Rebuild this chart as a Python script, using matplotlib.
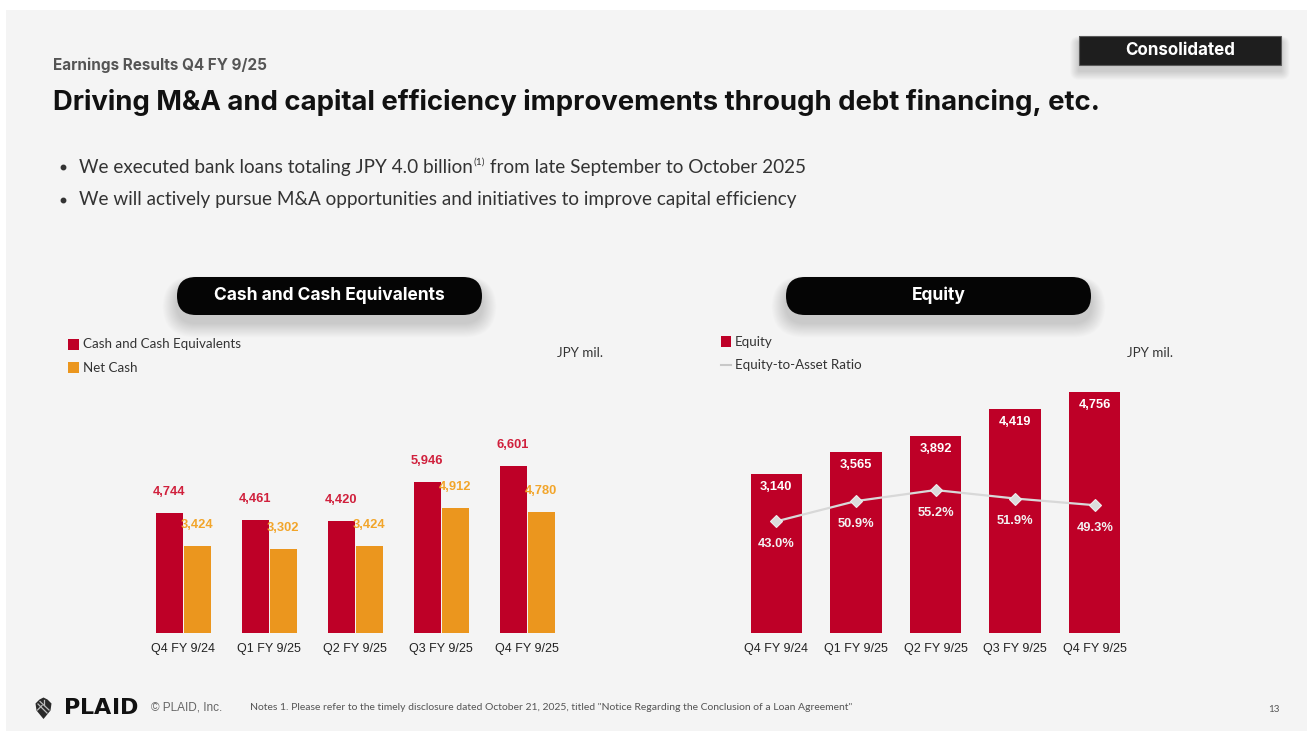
import matplotlib
matplotlib.use("Agg")
import matplotlib.pyplot as plt
from matplotlib.patches import FancyBboxPatch, Rectangle, Polygon
import numpy as np

# ---- data ----
quarters = ["Q4 FY 9/24", "Q1 FY 9/25", "Q2 FY 9/25", "Q3 FY 9/25", "Q4 FY 9/25"]
cash = [4744, 4461, 4420, 5946, 6601]
net_cash = [3424, 3302, 3424, 4912, 4780]
equity = [3140, 3565, 3892, 4419, 4756]
equity_ratio = [43.0, 50.9, 55.2, 51.9, 49.3]

# ---- style ----
W, H = 1307, 731
RED = "#BE0027"
RED_LABEL = "#D0203C"
ORANGE = "#EB961E"
ORANGE_LABEL = "#F2A52A"
BG = "#F4F4F4"
TXT = "#333333"
SANS = ["Lato", "DejaVu Sans"]
HEAD = ["Inter", "DejaVu Sans"]
ARIAL = ["Liberation Sans", "DejaVu Sans"]

fig = plt.figure(figsize=(W / 100, H / 100), dpi=100, facecolor="white")
renderer = fig.canvas.get_renderer()

# full-slide canvas in pixel coordinates (y grows downward)
bg = fig.add_axes([0, 0, 1, 1])
bg.set_xlim(0, W)
bg.set_ylim(H, 0)
bg.axis("off")
bg.add_patch(Rectangle((6, 10), W - 6, H - 10, facecolor=BG, edgecolor="none", zorder=0))


def text_width(t):
    return t.get_window_extent(renderer).width


def fit_text(t, width_px, passes=3):
    """Scale a text's font size so that it spans width_px pixels."""
    for _ in range(passes):
        t.set_fontsize(t.get_fontsize() * width_px / text_width(t))
    return t


def shadowed_box(x, y, w, h, r, color, layers=14, drop=8, spread=26, alpha=0.011):
    for i in range(layers):
        e = spread * (i + 1) / layers
        bg.add_patch(FancyBboxPatch((x - e * 0.55, y + drop - e * 0.35), w + e * 1.1, h + e * 0.9,
                                    boxstyle=f"round,pad=0,rounding_size={r + e * 0.5}",
                                    facecolor="black", edgecolor="none", alpha=alpha, zorder=1))
    bg.add_patch(FancyBboxPatch((x, y), w, h, boxstyle=f"round,pad=0,rounding_size={r}",
                                facecolor=color, edgecolor="none", zorder=2))


# header
fit_text(bg.text(53, 65, "Earnings Results Q4 FY 9/25", family=HEAD, fontsize=10, fontweight="bold",
                 color="#555555", va="center", ha="left"), 214)
fit_text(bg.text(53, 102, "Driving M&A and capital efficiency improvements through debt financing, etc.",
                 family=HEAD, fontsize=18, fontweight="bold", color="#111111", va="center", ha="left"), 1048)

shadowed_box(1079, 36, 202, 29, 0.5, "#1E1E1E", layers=10, drop=6, spread=16, alpha=0.014)
bg.add_patch(Rectangle((1079, 36), 202, 29, facecolor="none", edgecolor="#5A5A5A", lw=0.8, zorder=2.5))
fit_text(bg.text(1180, 50.5, "Consolidated", family=HEAD, fontsize=11, fontweight="bold", color="white",
                 va="center", ha="center", zorder=3), 110)

# bullets (the first carries a small superscript note marker)
y1, y2 = 167, 200
p1 = bg.text(79, y1, "We executed bank loans totaling JPY 4.0 billion", family=SANS, fontsize=13,
             color=TXT, va="center", ha="left")
sup = bg.text(0, y1 - 5, "(1)", family=SANS, fontsize=7, color=TXT, va="center", ha="left")
p3 = bg.text(0, y1, " from late September to October 2025", family=SANS, fontsize=13,
             color=TXT, va="center", ha="left")
for _ in range(3):
    w1 = text_width(p1)
    sup.set_x(79 + w1 + 0.5)
    ws = text_width(sup)
    p3.set_x(79 + w1 + ws + 1)
    total = w1 + ws + 1 + text_width(p3)
    f = p1.get_fontsize() * 727 / total
    p1.set_fontsize(f)
    p3.set_fontsize(f)
    sup.set_fontsize(f * 0.55)
bg.text(79, y2, "We will actively pursue M&A opportunities and initiatives to improve capital efficiency",
        family=SANS, fontsize=p1.get_fontsize(), color=TXT, va="center", ha="left")
for yy in (y1, y2):
    bg.plot([63], [yy], marker="o", markersize=3.2, color=TXT, zorder=3)

# chart section pills
shadowed_box(177, 277, 305, 38, 19, "#050505")
cash_title = fit_text(bg.text(329.5, 295, "Cash and Cash Equivalents", family=HEAD, fontsize=11.5,
                              fontweight="bold", color="white", va="center", ha="center", zorder=3), 231)
shadowed_box(786, 277, 305, 38, 19, "#050505")
bg.text(938.5, 295, "Equity", family=HEAD, fontsize=cash_title.get_fontsize(), fontweight="bold",
        color="white", va="center", ha="center", zorder=3)

# legends
bg.add_patch(Rectangle((68, 339), 10.5, 10.5, facecolor=RED, edgecolor="none", zorder=3))
bg.text(83, 344.5, "Cash and Cash Equivalents", family=SANS, fontsize=9.6, color=TXT, va="center")
bg.add_patch(Rectangle((68, 362), 10.5, 10.5, facecolor=ORANGE, edgecolor="none", zorder=3))
bg.text(83, 367.5, "Net Cash", family=SANS, fontsize=9.6, color=TXT, va="center")
bg.text(557, 353, "JPY mil.", family=SANS, fontsize=9.6, color=TXT, va="center")

bg.add_patch(Rectangle((720.5, 336), 10.5, 10.5, facecolor=RED, edgecolor="none", zorder=3))
bg.text(735, 341.5, "Equity", family=SANS, fontsize=9.6, color=TXT, va="center")
bg.plot([720.5, 731], [365, 365], color="#C8C8C8", lw=1.5, zorder=3)
bg.text(735, 365, "Equity-to-Asset Ratio", family=SANS, fontsize=9.6, color=TXT, va="center")
bg.text(1127, 353, "JPY mil.", family=SANS, fontsize=9.6, color=TXT, va="center")


def chart_axes(left_px, right_px, top_px, bottom_px):
    a = fig.add_axes([left_px / W, (H - bottom_px) / H, (right_px - left_px) / W, (bottom_px - top_px) / H])
    a.patch.set_alpha(0)
    for s in a.spines.values():
        s.set_visible(False)
    a.tick_params(axis="both", length=0)
    a.set_yticks([])
    return a


x = np.arange(len(quarters))

# ---- left chart: cash and net cash ----
step_l = 86.0
ppu_l = 0.02535
axl = chart_axes(183 - 0.6 * step_l, 183 + 4.6 * step_l, 380, 633)
axl.set_xlim(-0.6, 4.6)
axl.set_ylim(0, 253 / ppu_l)
bw = 27 / step_l
off = 14 / step_l
axl.bar(x - off, cash, width=bw, color=RED, zorder=2)
axl.bar(x + off, net_cash, width=bw, color=ORANGE, zorder=2)
for i in range(len(x)):
    axl.text(x[i] - off, cash[i] + 21 / ppu_l, f"{cash[i]:,}", ha="center", va="center",
             family=ARIAL, fontsize=9.3, fontweight="bold", color=RED_LABEL, zorder=3)
    axl.text(x[i] + off, net_cash[i] + 21 / ppu_l, f"{net_cash[i]:,}", ha="center", va="center",
             family=ARIAL, fontsize=9.3, fontweight="bold", color=ORANGE_LABEL, zorder=3)
axl.set_xticks(x)
axl.set_xticklabels(quarters, family=ARIAL, fontsize=9, color="#222222")
axl.tick_params(axis="x", pad=7)

# ---- right chart: equity and equity-to-asset ratio ----
step_r = 79.6
c0 = 776.3
ppu_r = 0.0507
axr = chart_axes(c0 - 0.6 * step_r, c0 + 4.6 * step_r, 380, 633)
axr.set_xlim(-0.6, 4.6)
axr.set_ylim(0, 253 / ppu_r)
axr.bar(x, equity, width=51.5 / step_r, color=RED, zorder=2)
for i in range(len(x)):
    axr.text(x[i], equity[i] - 13 / ppu_r, f"{equity[i]:,}", ha="center", va="center",
             family=ARIAL, fontsize=9.3, fontweight="bold", color="white", zorder=3)
axr.set_xticks(x)
axr.set_xticklabels(quarters, family=ARIAL, fontsize=9, color="#222222")
axr.tick_params(axis="x", pad=7)

axr2 = axr.twinx()
axr2.patch.set_alpha(0)
for s in axr2.spines.values():
    s.set_visible(False)
axr2.set_yticks([])
ppp = 2.566
axr2.set_ylim(-1.3 / ppp, 253 / ppp - 1.3 / ppp)
axr2.plot(x, equity_ratio, color="#D8D8D8", lw=1.6, marker="D", markersize=6.5,
          markerfacecolor="#DCDCDC", markeredgecolor="#EEEEEE", markeredgewidth=0.8, zorder=4)
for i in range(len(x)):
    axr2.text(x[i], equity_ratio[i] - 22.5 / ppp, f"{equity_ratio[i]:.1f}%", ha="center", va="center",
              family=ARIAL, fontsize=9.3, fontweight="bold", color="#F2F2F2", zorder=5)

# ---- footer ----
gem = Polygon([(43.5, 697.5), (47.5, 699.5), (51.5, 703.5), (50.5, 710.5), (43.5, 719),
               (36.5, 710.5), (35.5, 703.5), (39.5, 699.5)],
              closed=True, facecolor="#2A2A2A", edgecolor="none", zorder=3)
bg.add_patch(gem)
for seg in [((38, 704), (47, 713)), ((40, 701.5), (49, 710)), ((43.5, 699.5), (43.5, 705)),
            ((37.5, 710), (42, 705.5))]:
    bg.plot([seg[0][0], seg[1][0]], [seg[0][1], seg[1][1]], color="#BDBDBD", lw=0.9, zorder=4)

# heavy letter-spaced wordmark spanning x 64..138
letters = "PLAID"
mark = [bg.text(0, 708.5, ch, family=["DejaVu Sans"], fontsize=16, fontweight="bold",
                color="#111111", va="center", ha="left") for ch in letters]
widths = [text_width(t) for t in mark]
gap = (74 - sum(widths)) / (len(mark) - 1)
lx = 64.0
for t, w in zip(mark, widths):
    t.set_x(lx)
    lx += w + gap

fit_text(bg.text(151, 708, "© PLAID, Inc.", family=ARIAL, fontsize=7.3, color="#666666", va="center"), 71)
fit_text(bg.text(250, 708, 'Notes 1. Please refer to the timely disclosure dated October 21, 2025, titled "Notice Regarding the Conclusion of a Loan Agreement"',
                 family=SANS, fontsize=6.2, color="#555555", va="center"), 608)
bg.text(1274, 709, "13", family=SANS, fontsize=7, color="#555555", va="center", ha="center")

fig.savefig("out.png", dpi=100, facecolor="white")
